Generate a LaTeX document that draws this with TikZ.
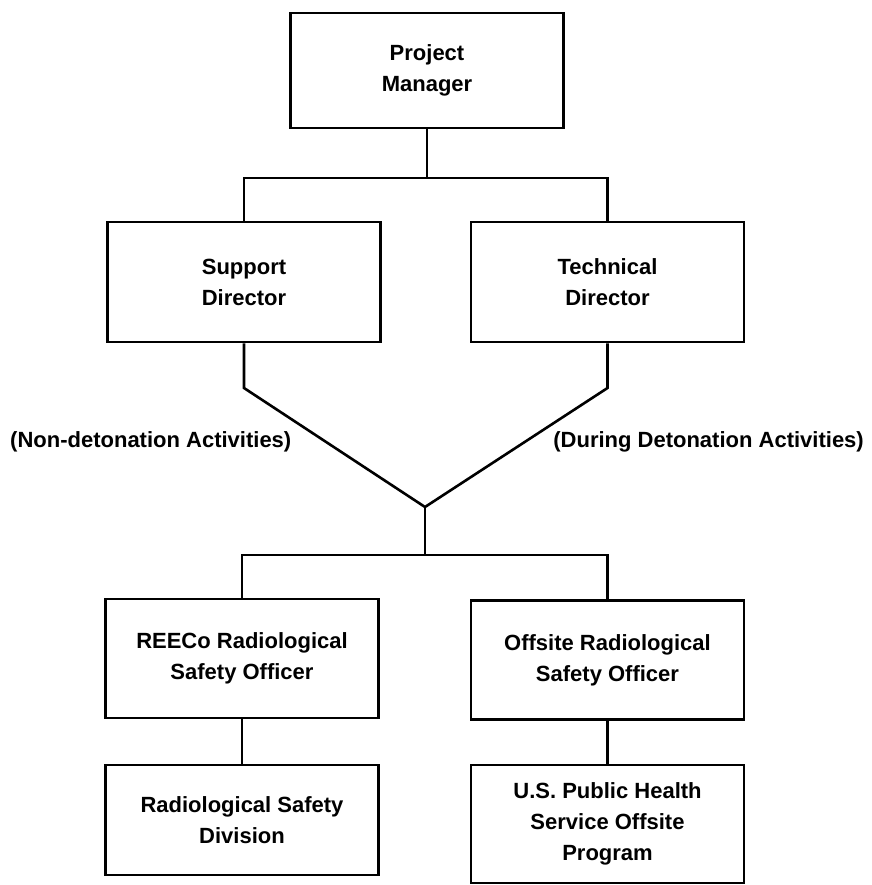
\documentclass[tikz,border=0pt]{standalone}
\usepackage{fontspec}
\setmainfont{Liberation Sans}
\begin{document}
\begin{tikzpicture}[x=1pt,y=-1pt,
  box/.style={draw, line width=2.6pt, minimum width=273pt, align=center,
    font=\bfseries\fontsize{22}{31}\selectfont, inner sep=0pt},
  conn/.style={line width=2.6pt, line join=miter},
  lbl/.style={font=\bfseries\fontsize{22}{31}\selectfont, inner sep=0pt}]
\useasboundingbox (0,0) rectangle (871,885);
\node[box, minimum height=115pt] (pm) at (427,70.5) {Project\\Manager};
\node[box, minimum height=120pt] (sd) at (244,282) {Support\\Director};
\node[box, minimum height=120pt] (td) at (607.5,282) {Technical\\Director};
\node[box, minimum height=119pt] (reeco) at (242,658.5) {REECo Radiological\\Safety Officer};
\node[box, minimum height=119pt] (offsite) at (607.5,660) {Offsite Radiological\\Safety Officer};
\node[box, minimum height=110pt] (rsd) at (242,820) {Radiological Safety\\Division};
\node[box, minimum height=118pt] (usphs) at (607.5,824) {U.S. Public Health\\Service Offsite\\Program};
\node[lbl, anchor=west] (nond) at (10,442) {(Non-detonation Activities)};
\node[lbl, anchor=east] (during) at (864,442) {(During Detonation Activities)};
\coordinate (hub1) at (427,178);
\coordinate (bl) at (244,388);
\coordinate (br) at (607.5,388);
\coordinate (v) at (425,507);
\coordinate (hub2) at (425,555);
\draw[conn] (pm.south) -- (hub1);
\draw[conn] (sd.north) |- (hub1) -| (td.north);
\draw[conn] (sd.south) -- (bl) -- (v) -- (br) -- (td.south);
\draw[conn] (v) -- (hub2);
\draw[conn] (reeco.north) |- (hub2) -| (offsite.north);
\draw[conn] (reeco.south) -- (rsd.north);
\draw[conn] (offsite.south) -- (usphs.north);
\end{tikzpicture}
\end{document}
